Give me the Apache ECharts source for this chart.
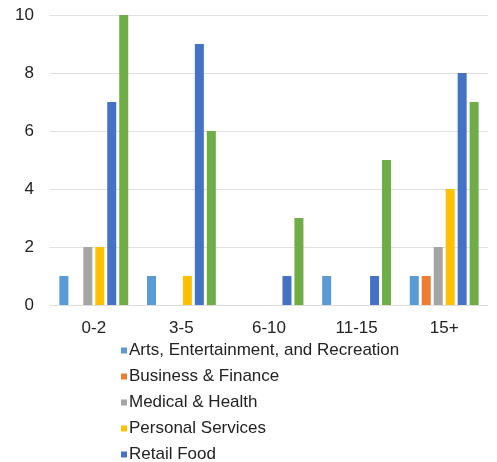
<!DOCTYPE html>
<html>
<head>
<meta charset="utf-8">
<script src="https://cdn.jsdelivr.net/npm/echarts@6/dist/echarts.min.js"></script>
<style>
  html, body { margin: 0; padding: 0; background: #fff; }
  #chart { width: 497px; height: 462px; }
</style>
</head>
<body>
<div id="chart"></div>
<script>
// Years-in-business buckets
const categories = ['0-2', '3-5', '6-10', '11-15', '15+'];

// Counts per business type
const arts      = [1, 1, 0, 1, 1];
const business  = [0, 0, 0, 0, 1];
const medical   = [2, 0, 0, 0, 2];
const personal  = [2, 1, 0, 0, 4];
const retail    = [7, 9, 1, 1, 8];
const other     = [10, 6, 3, 5, 7];

const yTicks = { min: 0, max: 10, interval: 2 };

const seriesDefs = [
  { name: 'Arts, Entertainment, and Recreation', data: arts, color: '#5B9BD5' },
  { name: 'Business & Finance', data: business, color: '#ED7D31' },
  { name: 'Medical & Health', data: medical, color: '#A5A5A5' },
  { name: 'Personal Services', data: personal, color: '#FFC000' },
  { name: 'Retail Food', data: retail, color: '#4472C4' },
  { name: 'Other', data: other, color: '#70AD47' }
];

const chart = echarts.init(document.getElementById('chart'));
chart.setOption({
  animation: false,
  textStyle: { fontFamily: 'Liberation Sans, Arial, sans-serif' },
  grid: { left: 50, right: 9, top: 15, bottom: 157, containLabel: false },
  legend: {
    orient: 'vertical',
    left: 121,
    top: 342,
    height: 200,
    padding: 0,
    itemWidth: 6,
    itemHeight: 6,
    itemGap: 9,
    icon: 'rect',
    data: seriesDefs.slice(0, 5).map(s => s.name),
    textStyle: { fontSize: 17, color: '#222', padding: [0, 0, 0, -3] }
  },
  xAxis: {
    type: 'category',
    data: categories,
    axisLine: { show: true, lineStyle: { color: '#ddd' } },
    axisTick: { show: false },
    axisLabel: { fontSize: 17, color: '#222', margin: 15 }
  },
  yAxis: {
    type: 'value',
    min: yTicks.min,
    max: yTicks.max,
    interval: yTicks.interval,
    axisLine: { show: false },
    axisTick: { show: false },
    axisLabel: { fontSize: 17, color: '#222', margin: 16 },
    splitLine: { lineStyle: { color: '#e0e0e0' } }
  },
  series: seriesDefs.map(s => ({
    name: s.name,
    type: 'bar',
    data: s.data,
    barWidth: 9,
    barGap: '33%',
    barCategoryGap: '20%',
    itemStyle: { color: s.color }
  }))
});
</script>
</body>
</html>
